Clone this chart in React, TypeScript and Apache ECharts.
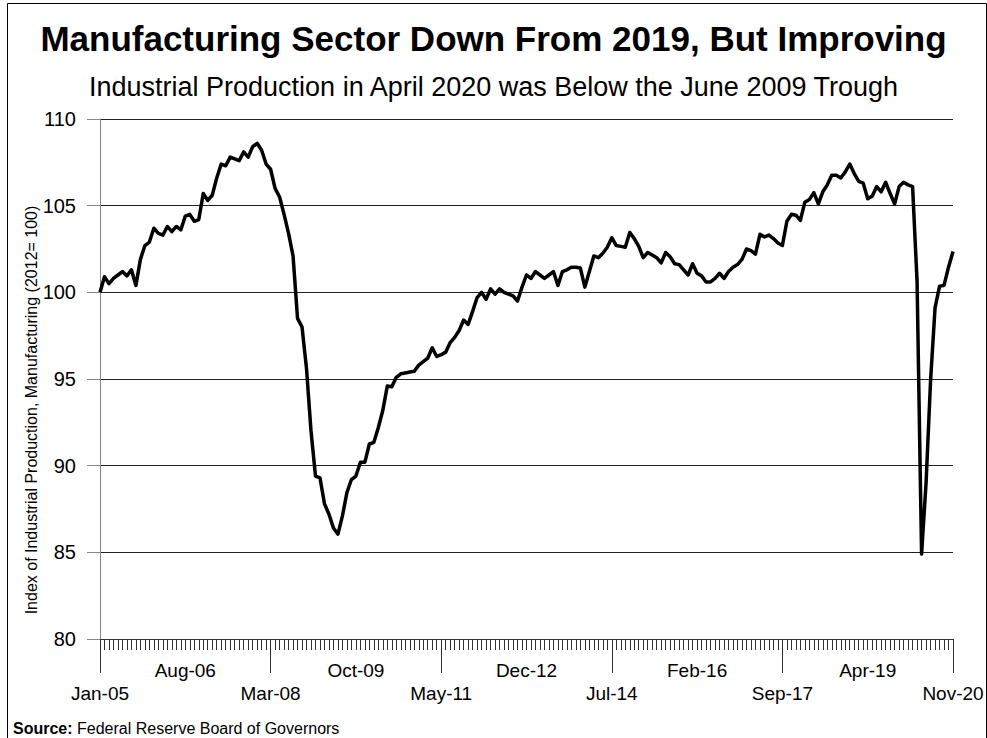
import React, { useEffect, useRef } from "react";
import * as echarts from "echarts";

const FONT = "'Liberation Sans', Arial, Helvetica, sans-serif";

const TITLE = "Manufacturing Sector Down From 2019, But Improving";
const SUBTITLE = "Industrial Production in April 2020 was Below the June 2009 Trough";
const Y_NAME = "Index of Industrial Production, Manufacturing (2012= 100)";
const SOURCE_LABEL = "Source:";
const SOURCE_TEXT = "Federal Reserve Board of Governors";

const monthNames = ["Jan", "Feb", "Mar", "Apr", "May", "Jun", "Jul", "Aug", "Sep", "Oct", "Nov", "Dec"];
const firstYear = 2005;
const lastYear = 2020;
const lastMonthIndex = 10; // Nov

const categories: string[] = [];
for (let y = firstYear; y <= lastYear; y++) {
  for (let m = 0; m < 12; m++) {
    if (y === lastYear && m > lastMonthIndex) break;
    categories.push(`${monthNames[m]}-${String(y % 100).padStart(2, "0")}`);
  }
}

// Upper row of tick labels and lower row (lower ones carry the long tick marks)
const upperLabels = ["Aug-06", "Oct-09", "Dec-12", "Feb-16", "Apr-19"];
const lowerLabels = ["Jan-05", "Mar-08", "May-11", "Jul-14", "Sep-17", "Nov-20"];

// Index of Industrial Production, Manufacturing (2012 = 100), Jan-05 .. Nov-20
const values2005 = [100.0, 100.9, 100.5, 100.8, 101.0, 101.2, 100.95, 101.3, 100.4, 101.9, 102.7, 102.9];
const values2006 = [103.7, 103.4, 103.3, 103.8, 103.5, 103.8, 103.6, 104.4, 104.5, 104.1, 104.2, 105.7];
const values2007 = [105.3, 105.6, 106.6, 107.4, 107.3, 107.8, 107.7, 107.6, 108.1, 107.8, 108.4, 108.6];
const values2008 = [108.2, 107.4, 107.1, 106.0, 105.5, 104.5, 103.4, 102.1, 98.5, 98.0, 95.6, 92.0];
const values2009 = [89.4, 89.3, 87.8, 87.2, 86.4, 86.05, 87.1, 88.45, 89.2, 89.4, 90.2, 90.2];
const values2010 = [91.25, 91.35, 92.2, 93.2, 94.6, 94.55, 95.1, 95.3, 95.35, 95.4, 95.45, 95.8];
const values2011 = [96.0, 96.2, 96.8, 96.3, 96.4, 96.55, 97.1, 97.4, 97.8, 98.4, 98.15, 98.9];
const values2012 = [99.7, 100.0, 99.6, 100.2, 99.9, 100.2, 100.0, 99.9, 99.8, 99.5, 100.3, 101.0];
const values2013 = [100.8, 101.2, 101.0, 100.8, 101.0, 101.2, 100.4, 101.2, 101.3, 101.45, 101.45, 101.4];
const values2014 = [100.3, 101.2, 102.1, 102.0, 102.25, 102.6, 103.15, 102.7, 102.65, 102.6, 103.45, 103.1];
const values2015 = [102.65, 102.0, 102.3, 102.15, 102.0, 101.7, 102.3, 102.05, 101.65, 101.6, 101.3, 101.0];
const values2016 = [101.65, 101.1, 100.95, 100.6, 100.6, 100.8, 101.1, 100.8, 101.2, 101.45, 101.6, 101.9];
const values2017 = [102.5, 102.4, 102.2, 103.35, 103.2, 103.3, 103.1, 102.85, 102.7, 104.1, 104.5, 104.45];
const values2018 = [104.15, 105.2, 105.35, 105.75, 105.1, 105.8, 106.2, 106.75, 106.75, 106.6, 106.95, 107.4];
const values2019 = [106.85, 106.4, 106.3, 105.4, 105.55, 106.1, 105.8, 106.35, 105.7, 105.1, 106.1, 106.35];
const values2020 = [106.2, 106.1, 100.6, 84.9, 89.0, 94.9, 99.1, 100.35, 100.4, 101.45, 102.35];

const values = [
  ...values2005, ...values2006, ...values2007, ...values2008, ...values2009, ...values2010,
  ...values2011, ...values2012, ...values2013, ...values2014, ...values2015, ...values2016,
  ...values2017, ...values2018, ...values2019, ...values2020,
];

const yMin = 80;
const yMax = 110;
const yStep = 5;

export default function App() {
  const ref = useRef<HTMLDivElement>(null);

  useEffect(() => {
    if (!ref.current) return;
    const chart = echarts.init(ref.current, null, { renderer: "svg" });
    const labelBase = { fontFamily: FONT, fontSize: 19, color: "#000" };
    chart.setOption({
      animation: false,
      backgroundColor: "#fff",
      title: [
        {
          text: TITLE,
          left: "center",
          top: 21,
          padding: 0,
          textStyle: { fontFamily: FONT, fontSize: 35, fontWeight: "bold", color: "#000" },
        },
        {
          text: SUBTITLE,
          left: "center",
          top: 73,
          padding: 0,
          textStyle: { fontFamily: FONT, fontSize: 27, fontWeight: "normal", color: "#000" },
        },
      ],
      grid: { left: 100, right: 34, top: 119, bottom: 99, containLabel: false },
      xAxis: [
        {
          type: "category",
          data: categories,
          boundaryGap: false,
          position: "bottom",
          axisLine: { show: true, lineStyle: { color: "#333", width: 1 } },
          axisTick: { show: true, interval: 0, length: 11, lineStyle: { color: "#333", width: 1 } },
          axisLabel: {
            ...labelBase,
            interval: (_i: number, v: string) => upperLabels.includes(v),
            margin: 22,
          },
          splitLine: { show: false },
        },
        {
          type: "category",
          data: categories,
          boundaryGap: false,
          position: "bottom",
          gridIndex: 0,
          axisLine: { show: false },
          axisTick: {
            show: true,
            interval: (_i: number, v: string) => lowerLabels.includes(v),
            length: 34,
            lineStyle: { color: "#333", width: 1 },
          },
          axisLabel: {
            ...labelBase,
            interval: (_i: number, v: string) => lowerLabels.includes(v),
            margin: 45,
          },
          splitLine: { show: false },
        },
      ],
      yAxis: {
        type: "value",
        min: yMin,
        max: yMax,
        interval: yStep,
        axisLine: { show: true, lineStyle: { color: "#888", width: 1 } },
        axisTick: { show: true, length: 13, lineStyle: { color: "#888", width: 1 } },
        axisLabel: { fontFamily: FONT, fontSize: 20, color: "#000", margin: 24 },
        splitLine: { show: true, lineStyle: { color: "#222", width: 1 } },
      },
      series: [
        {
          type: "line",
          data: values,
          xAxisIndex: 0,
          showSymbol: false,
          symbol: "none",
          silent: true,
          lineStyle: { color: "#000", width: 3.5, join: "round" },
          itemStyle: { color: "#000" },
        },
      ],
      graphic: [
        {
          type: "rect",
          silent: true,
          z: -10,
          shape: { x: 7.5, y: 3.5, width: 979, height: 800 },
          style: { fill: "none", stroke: "#000", lineWidth: 1 },
        },
        {
          type: "text",
          x: 31,
          y: 410,
          rotation: Math.PI / 2,
          silent: true,
          style: {
            text: Y_NAME,
            fontFamily: FONT,
            fontSize: 16,
            fill: "#000",
            align: "center",
            verticalAlign: "middle",
          },
        },
        {
          type: "text",
          x: 13,
          y: 728,
          silent: true,
          style: {
            text: `{b|${SOURCE_LABEL}} ${SOURCE_TEXT}`,
            fontFamily: FONT,
            fontSize: 16,
            fill: "#000",
            verticalAlign: "middle",
            rich: {
              b: { fontFamily: FONT, fontSize: 16, fontWeight: "bold", fill: "#000" },
            },
          },
        },
      ],
    });
    return () => chart.dispose();
  }, []);

  return (
    <div
      ref={ref}
      style={{ position: "fixed", left: 0, top: 0, width: 987, height: 738, background: "#fff" }}
    />
  );
}
